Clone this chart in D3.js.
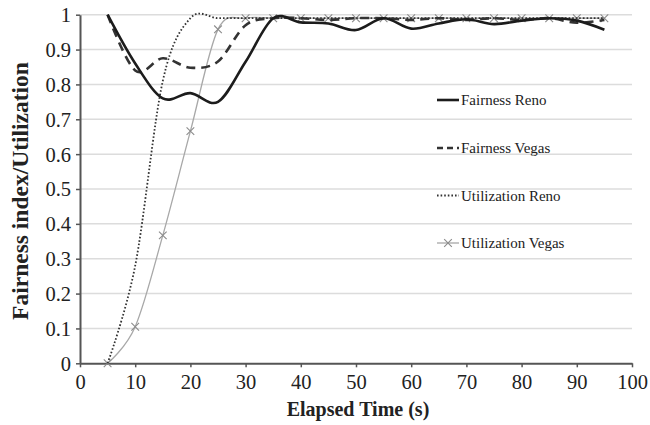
<!DOCTYPE html>
<html>
<head>
<meta charset="utf-8">
<script src="https://cdn.jsdelivr.net/npm/d3@7"></script>
<style>
  html, body { margin: 0; padding: 0; background: #fff; }
  svg { display: block; font-family: "Liberation Serif", "Times New Roman", serif; }
</style>
</head>
<body>
<svg id="chart" width="650" height="425"></svg>
<script>
// Elapsed time samples (s)
const times = [5, 10, 15, 20, 25, 30, 35, 40, 45, 50, 55, 60, 65, 70, 75, 80, 85, 90, 95];

// Series values per sample
const fairnessReno = [1.0, 0.86, 0.76, 0.775, 0.75, 0.865, 0.99, 0.978, 0.975, 0.956, 0.99, 0.96, 0.975, 0.987, 0.973, 0.983, 0.99, 0.983, 0.957];
const fairnessVegas = [1.0, 0.84, 0.875, 0.848, 0.866, 0.97, 0.99, 0.99, 0.985, 0.99, 0.99, 0.985, 0.99, 0.985, 0.99, 0.985, 0.99, 0.977, 0.985];
const utilizationReno = [0.0, 0.28, 0.81, 0.99, 0.99, 0.99, 0.99, 0.99, 0.99, 0.99, 0.99, 0.99, 0.99, 0.99, 0.99, 0.99, 0.99, 0.99, 0.99];
const utilizationVegas = [0.0, 0.105, 0.367, 0.666, 0.958, 0.99, 0.99, 0.99, 0.99, 0.99, 0.99, 0.99, 0.99, 0.99, 0.99, 0.99, 0.99, 0.99, 0.99];

// Axis ticks
const xTicks = [0, 10, 20, 30, 40, 50, 60, 70, 80, 90, 100];
const yTicks = [0, 0.1, 0.2, 0.3, 0.4, 0.5, 0.6, 0.7, 0.8, 0.9, 1];
const yTickLabels = ["0", "0.1", "0.2", "0.3", "0.4", "0.5", "0.6", "0.7", "0.8", "0.9", "1"];

const seriesNames = ["Fairness Reno", "Fairness Vegas", "Utilization Reno", "Utilization Vegas"];

const svg = d3.select("#chart");
const plotLeft = 80, plotRight = 632, plotTop = 14.7, plotBottom = 363.3;

const x = d3.scaleLinear().domain([0, 100]).range([plotLeft, plotRight]);
const y = d3.scaleLinear().domain([0, 1]).range([plotBottom, plotTop]);

// Horizontal gridlines
svg.append("g")
  .selectAll("line")
  .data(yTicks.filter(d => d > 0))
  .join("line")
  .attr("x1", plotLeft).attr("x2", plotRight)
  .attr("y1", d => y(d)).attr("y2", d => y(d))
  .attr("stroke", "#dcdcdc").attr("stroke-width", 1.5);

// Axes
const xAxis = svg.append("g")
  .attr("transform", `translate(0,${plotBottom})`)
  .call(d3.axisBottom(x).tickValues(xTicks).tickFormat(d3.format("d")).tickSize(4).tickSizeOuter(0));
const yAxis = svg.append("g")
  .attr("transform", `translate(${plotLeft},0)`)
  .call(d3.axisLeft(y).tickValues(yTicks).tickFormat((d, i) => yTickLabels[i]).tickSize(4).tickSizeOuter(0));

[xAxis, yAxis].forEach(g => {
  g.select(".domain").attr("stroke", "#555").attr("stroke-width", 2);
  g.selectAll(".tick line").attr("stroke", "#555").attr("stroke-width", 1.5);
  g.selectAll(".tick text")
    .attr("fill", "#222")
    .style("font-family", "Liberation Serif, serif")
    .style("font-size", "20.5px");
});
xAxis.selectAll(".tick text").attr("dy", "0.95em").attr("y", 6);
yAxis.selectAll(".tick text").attr("x", -9).attr("dy", "0.34em");

// Axis titles
svg.append("text")
  .attr("x", (plotLeft + plotRight) / 2 + 2).attr("y", 416)
  .attr("text-anchor", "middle")
  .attr("font-weight", "bold").attr("font-size", 20).attr("fill", "#222")
  .text("Elapsed Time (s)");
svg.append("text")
  .attr("transform", "translate(28,191) rotate(-90)")
  .attr("text-anchor", "middle")
  .attr("font-weight", "bold").attr("font-size", 23.5).attr("fill", "#222")
  .text("Fairness index/Utilization");

// Series styles
const styles = [
  { values: fairnessReno, stroke: "#1c1c1c", width: 2.6, dash: null },
  { values: fairnessVegas, stroke: "#333", width: 2.6, dash: "9,6" },
  { values: utilizationReno, stroke: "#333", width: 1.8, dash: "1.6,2" },
  { values: utilizationVegas, stroke: "#a8a8a8", width: 1.3, dash: null, marker: true }
];

const line = d3.line()
  .x(d => x(d[0])).y(d => y(d[1]))
  .curve(d3.curveCatmullRom.alpha(0));

// Draw lines back to front
[3, 2, 1, 0].forEach(i => {
  const s = styles[i];
  const pts = times.map((t, k) => [t, s.values[k]]);
  svg.append("path")
    .attr("d", line(pts))
    .attr("fill", "none")
    .attr("stroke", s.stroke)
    .attr("stroke-width", s.width)
    .attr("stroke-dasharray", s.dash);
  if (s.marker) {
    svg.append("g").selectAll("path")
      .data(pts).join("path")
      .attr("d", d3.symbol(d3.symbolX, 40)())
      .attr("transform", d => `translate(${x(d[0])},${y(d[1])})`)
      .attr("fill", "none").attr("stroke", "#8c8c8c").attr("stroke-width", 1.1);
  }
});

// Legend
const legendY = [100, 148, 195.5, 243];
const legend = svg.append("g");
styles.forEach((s, i) => {
  const gy = legendY[i];
  legend.append("line")
    .attr("x1", 437).attr("x2", 459).attr("y1", gy).attr("y2", gy)
    .attr("stroke", s.stroke).attr("stroke-width", s.width)
    .attr("stroke-dasharray", s.dash ? (i === 1 ? "6,4" : s.dash) : null);
  if (s.marker) {
    legend.append("path")
      .attr("d", d3.symbol(d3.symbolX, 40)())
      .attr("transform", `translate(448,${gy})`)
      .attr("fill", "none").attr("stroke", "#8c8c8c").attr("stroke-width", 1.1);
  }
  legend.append("text")
    .attr("x", 461).attr("y", gy + 5)
    .attr("font-size", 15).attr("fill", "#222")
    .text(seriesNames[i]);
});
</script>
</body>
</html>
